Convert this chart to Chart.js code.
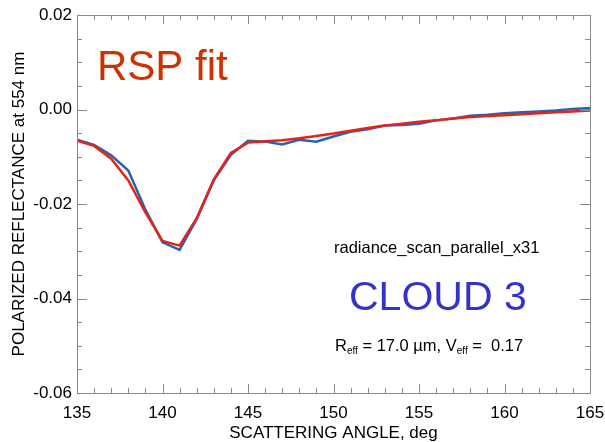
<!DOCTYPE html>
<html>
<head>
<meta charset="utf-8">
<script src="https://cdn.jsdelivr.net/npm/chart.js@4"></script>
<style>
  html, body { margin: 0; padding: 0; background: #fff; }
  #wrap { width: 605px; height: 442px; }
</style>
</head>
<body>
<div id="wrap"><canvas id="scan"></canvas></div>
<script>
// scattering angles, one per view (31 views)
const angles = [135, 136, 137, 138, 139, 140, 141, 142, 143, 144, 145, 146, 147, 148, 149, 150,
                151, 152, 153, 154, 155, 156, 157, 158, 159, 160, 161, 162, 163, 164, 165];

// measured polarized reflectance
const measured = [-0.0064, -0.0075, -0.0097, -0.0129, -0.0212, -0.0281, -0.0297, -0.0232, -0.0150, -0.0096,
                  -0.0066, -0.0068, -0.0074, -0.0064, -0.0068, -0.0057, -0.0047, -0.0042, -0.0034, -0.0033,
                  -0.0030, -0.0023, -0.0019, -0.0013, -0.0011, -0.0008, -0.0006, -0.0004, -0.0002, 0.0001, 0.0003];

// fitted polarized reflectance
const fitted = [-0.0066, -0.0077, -0.0104, -0.0150, -0.0218, -0.0278, -0.0288, -0.0230, -0.0148, -0.0092,
                -0.0070, -0.0067, -0.0065, -0.0061, -0.0056, -0.0051, -0.0045, -0.0039, -0.0034, -0.0030,
                -0.0026, -0.0023, -0.0019, -0.0016, -0.0014, -0.0012, -0.0010, -0.0008, -0.0006, -0.0004, -0.0002];

const xTicks = [135, 140, 145, 150, 155, 160, 165];
const yTicks = [-0.06, -0.04, -0.02, 0.00, 0.02];

const font = "'Liberation Sans', Arial, sans-serif";

// frame with inward ticks on all four sides
const frame = {
  id: 'frame',
  afterDraw(chart) {
    const { ctx, chartArea: a, scales: { x, y } } = chart;
    ctx.save();
    ctx.strokeStyle = '#8a8a8a';
    ctx.lineWidth = 1;
    ctx.strokeRect(a.left + 0.5, a.top + 0.5, a.right - a.left, a.bottom - a.top);
    ctx.beginPath();
    for (let v = 135; v <= 165; v += 1) {
      const px = Math.round(x.getPixelForValue(v)) + 0.5;
      const len = (v % 5 === 0) ? 9 : 5;
      ctx.moveTo(px, a.bottom); ctx.lineTo(px, a.bottom - len);
      ctx.moveTo(px, a.top); ctx.lineTo(px, a.top + len);
    }
    for (let i = 0; i <= 16; i++) {
      const v = -0.06 + i * 0.005;
      const py = Math.round(y.getPixelForValue(v)) + 0.5;
      const len = (i % 4 === 0) ? 10 : 5;
      ctx.moveTo(a.left, py); ctx.lineTo(a.left + len, py);
      ctx.moveTo(a.right, py); ctx.lineTo(a.right - len, py);
    }
    ctx.stroke();
    ctx.restore();
  }
};

// labels inside the plot
const notes = {
  id: 'notes',
  afterDraw(chart) {
    const { ctx } = chart;
    ctx.save();
    ctx.textBaseline = 'alphabetic';
    ctx.textAlign = 'left';

    ctx.fillStyle = '#cc3300';
    ctx.font = '42px ' + font;
    ctx.fillText('RSP fit', 97, 80);

    ctx.fillStyle = '#000';
    ctx.font = '16.5px ' + font;
    ctx.fillText('radiance_scan_parallel_x31', 334, 253);

    ctx.fillStyle = '#3333cc';
    ctx.font = '41px ' + font;
    ctx.fillText('CLOUD 3', 349, 310);

    // R_eff = 17.0 µm, V_eff =  0.17
    ctx.fillStyle = '#000';
    let cx = 335;
    const big = '16.5px ' + font, sub = '10px ' + font;
    const parts = [['R', big, 0], ['eff', sub, 3], [' = 17.0 \u00b5m, V', big, 0], ['eff', sub, 3], [' =  0.17', big, 0]];
    parts.forEach(([t, f, dy]) => {
      ctx.font = f;
      ctx.fillText(t, cx, 351 + dy);
      cx += ctx.measureText(t).width;
    });
    ctx.restore();
  }
};

new Chart(document.getElementById('scan'), {
  type: 'line',
  data: {
    datasets: [
      {
        label: 'fit',
        data: angles.map((a, i) => ({ x: a, y: fitted[i] })),
        borderColor: '#e3241b',
        borderWidth: 2.5,
        pointRadius: 0,
        tension: 0,
        order: 0
      },
      {
        label: 'measured',
        data: angles.map((a, i) => ({ x: a, y: measured[i] })),
        borderColor: '#2a62ad',
        borderWidth: 2.5,
        pointRadius: 0,
        tension: 0,
        order: 1
      }
    ]
  },
  options: {
    responsive: true,
    maintainAspectRatio: false,
    animation: false,
    events: [],
    layout: { padding: { top: 15, right: 15, left: 0, bottom: 0 } },
    plugins: { legend: { display: false }, tooltip: { enabled: false } },
    scales: {
      x: {
        type: 'linear',
        min: 135, max: 165,
        afterFit: s => { s.height = 49; s.paddingLeft = 0; s.paddingRight = 0; },
        afterBuildTicks: s => { s.ticks = xTicks.map(v => ({ value: v })); },
        grid: { display: false, drawTicks: false },
        border: { display: false },
        ticks: { color: '#000', font: { family: font, size: 17 }, padding: 10, maxRotation: 0 },
        title: { display: true, text: 'SCATTERING ANGLE, deg', color: '#000',
                 font: { family: font, size: 17, lineHeight: 1.05 }, padding: { top: 0, bottom: 0 } }
      },
      y: {
        min: -0.06, max: 0.02,
        afterFit: s => { s.width = 77; s.paddingTop = 0; s.paddingBottom = 0; },
        afterBuildTicks: s => { s.ticks = yTicks.map(v => ({ value: v })); },
        grid: { display: false, drawTicks: false },
        border: { display: false },
        ticks: { color: '#000', font: { family: font, size: 17 }, padding: 5,
                 callback: v => v.toFixed(2) },
        title: { display: true, text: 'POLARIZED REFLECTANCE at 554 nm', color: '#000',
                 font: { family: font, size: 17 }, padding: { top: 9, bottom: 0 } }
      }
    }
  },
  plugins: [frame, notes]
});
</script>
</body>
</html>
